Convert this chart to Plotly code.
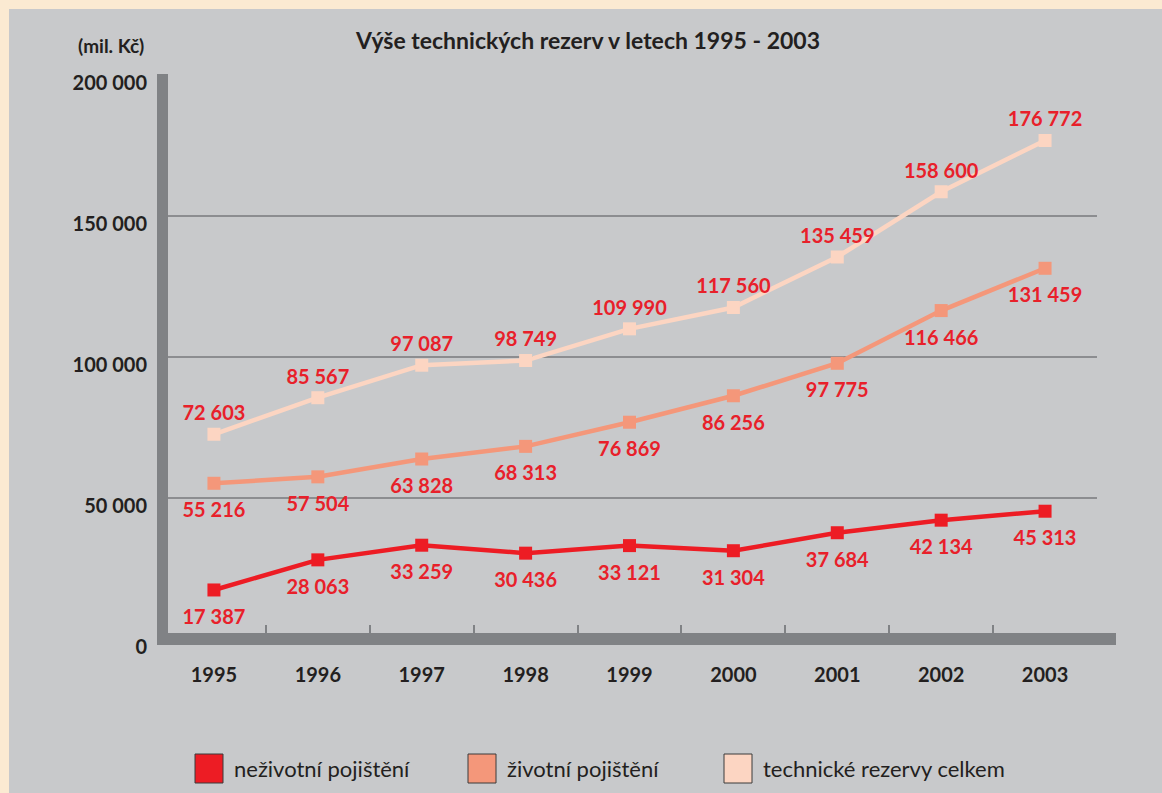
import plotly.graph_objects as go

years = ["1995", "1996", "1997", "1998", "1999", "2000", "2001", "2002", "2003"]
nezivotni = [17387, 28063, 33259, 30436, 33121, 31304, 37684, 42134, 45313]
zivotni = [55216, 57504, 63828, 68313, 76869, 86256, 97775, 116466, 131459]
celkem = [72603, 85567, 97087, 98749, 109990, 117560, 135459, 158600, 176772]
series_names = ["neživotní pojištění", "životní pojištění", "technické rezervy celkem"]
y_ticks = [0, 50000, 100000, 150000, 200000]
y_tick_labels = ["0", "50 000", "100 000", "150 000", "200 000"]

colors = ["#ED1C24", "#F4977A", "#FCD5C2"]
label_color = "#E8202A"
FONT = "Lato"
W, H = 1162, 793
L, R, T, B = 162, 65, 75, 154


def fmt(v):
    return f"{v:,}".replace(",", " ")


fig = go.Figure()
for vals, col, pos, name in [
    (celkem, colors[2], "top center", series_names[2]),
    (zivotni, colors[1], "bottom center", series_names[1]),
    (nezivotni, colors[0], "bottom center", series_names[0]),
]:
    fig.add_trace(go.Scatter(
        x=years, y=vals, name=name, mode="lines+markers",
        line=dict(color=col, width=4.5),
        marker=dict(symbol="square", size=13, color=col),
        cliponaxis=False, showlegend=False,
    ))
    # value labels (transparent marker controls label distance)
    fig.add_trace(go.Scatter(
        x=years, y=vals, mode="markers+text",
        marker=dict(size=13 if pos.startswith("top") else 29, color="rgba(0,0,0,0)"),
        text=[fmt(v) for v in vals], textposition=pos,
        textfont=dict(family=FONT, size=20, color=label_color, weight="bold"),
        cliponaxis=False, showlegend=False, hoverinfo="skip",
    ))

pw = W - L - R
ph = H - T - B


def px(xp):
    return (xp - L) / pw


def py(yp):
    return (H - B - yp) / ph


shapes = []
# cream border strips
shapes.append(dict(type="rect", xref="paper", yref="paper", x0=px(0), x1=px(W), y0=py(9), y1=py(0),
                   fillcolor="#FBEAD2", line=dict(width=0), layer="above"))
shapes.append(dict(type="rect", xref="paper", yref="paper", x0=px(0), x1=px(9), y0=py(H), y1=py(0),
                   fillcolor="#FBEAD2", line=dict(width=0), layer="above"))
# thick axes
axis_col = "#808285"
shapes.append(dict(type="rect", xref="paper", yref="paper", x0=px(157), x1=px(168), y0=py(645), y1=py(74),
                   fillcolor=axis_col, line=dict(width=0), layer="above"))
shapes.append(dict(type="rect", xref="paper", yref="paper", x0=px(157), x1=px(1116), y0=py(645), y1=py(633),
                   fillcolor=axis_col, line=dict(width=0), layer="above"))

annotations = []
legend_x = [195, 468, 724]
for i, (name, col) in enumerate(zip(series_names, colors)):
    x0 = legend_x[i]
    shapes.append(dict(type="rect", xref="paper", yref="paper", x0=px(x0), x1=px(x0 + 28),
                       y0=py(783), y1=py(754), fillcolor=col, line=dict(color="#3a3a3a", width=1)))
    annotations.append(dict(xref="paper", yref="paper", x=px(x0 + 37), y=py(768), text=name,
                            showarrow=False, xanchor="left", yanchor="middle",
                            font=dict(family=FONT, size=22, color="#231F20")))

annotations.append(dict(xref="paper", yref="paper", x=px(146), y=py(45), text="(mil. Kč)",
                        showarrow=False, xanchor="right", yanchor="middle",
                        font=dict(family=FONT, size=19, color="#231F20", weight="bold")))

fig.update_layout(
    width=W, height=H,
    margin=dict(l=L, r=R, t=T, b=B),
    paper_bgcolor="#C8C9CB", plot_bgcolor="#C8C9CB",
    title=dict(text="Výše technických rezerv v letech 1995 - 2003", x=588 / W, xanchor="center",
               y=1 - 41 / H, yanchor="middle",
               font=dict(family=FONT, size=23, color="#231F20", weight="bold")),
    shapes=shapes, annotations=annotations,
    xaxis=dict(type="category", range=[-0.5, 8.5], showgrid=False, showline=False, zeroline=False,
               ticks="inside", tickson="boundaries", ticklen=14, tickwidth=1.5, tickcolor=axis_col,
               ticklabelstandoff=22,
               tickfont=dict(family=FONT, size=20, color="#231F20", weight="bold")),
    yaxis=dict(range=[0, 200000], tickvals=y_ticks, ticktext=y_tick_labels, showgrid=True,
               gridcolor="#8C8D90", gridwidth=1.5, zeroline=False, showline=False, ticks="",
               ticklabelshift=8, ticklabelstandoff=14,
               tickfont=dict(family=FONT, size=20, color="#231F20", weight="bold")),
)

fig.write_html("out.html", config={"displayModeBar": False},
               post_script="document.body.style.margin='0';")
